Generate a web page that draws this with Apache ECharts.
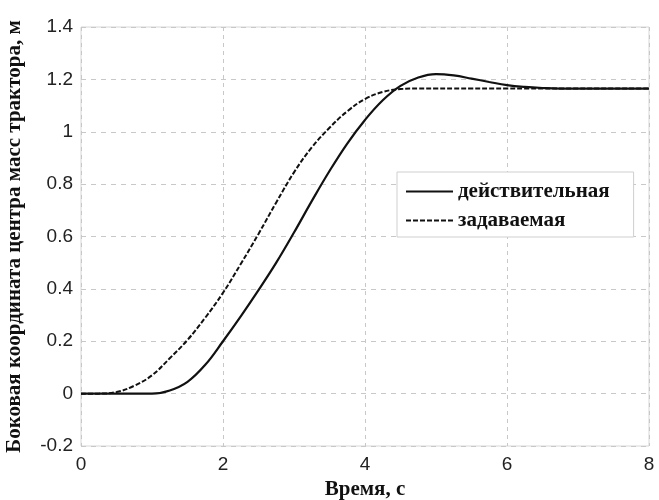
<!DOCTYPE html>
<html>
<head>
<meta charset="utf-8">
<script src="https://cdn.jsdelivr.net/npm/echarts@6/dist/echarts.min.js"></script>
<style>html,body{margin:0;padding:0;background:#fff}#c{width:659px;height:500px}</style>
</head>
<body>
<div id="c"></div>
<script>
const times = [0,0.25,0.5,0.75,1,1.25,1.5,1.75,2,2.25,2.5,2.75,3,3.25,3.5,3.75,4,4.25,4.5,4.75,5,5.25,5.5,5.75,6,6.25,6.5,6.75,7,7.25,7.5,7.75,8];
const actual = [0,0,0,0,0,0.012,0.045,0.11,0.2,0.295,0.395,0.5,0.615,0.735,0.85,0.955,1.045,1.12,1.175,1.207,1.22,1.215,1.203,1.19,1.178,1.171,1.167,1.165,1.165,1.165,1.165,1.165,1.165];
const target = [0,0,0.006,0.03,0.07,0.135,0.205,0.29,0.385,0.495,0.61,0.73,0.845,0.94,1.015,1.078,1.125,1.152,1.163,1.165,1.165,1.165,1.165,1.165,1.165,1.165,1.165,1.165,1.165,1.165,1.165,1.165,1.165];
const seriesNames = ['действительная','задаваемая'];
const xTitle = 'Время, с';
const yTitle = 'Боковая координата центра масс трактора, м';

const pair = (ys) => times.map((t,i)=>[t, ys[i]]);
const fmt = v => String(Math.round(v*10)/10);
const serif = {fontFamily:'Liberation Serif',fontWeight:'bold',fontSize:21,color:'#111'};
const chart = echarts.init(document.getElementById('c'));
chart.setOption({
  animation:false,
  backgroundColor:'#fff',
  grid:{left:81,right:10,top:27,bottom:54,show:true,borderColor:'#d6d6d6',borderWidth:1,
        containLabel:false,outerBoundsMode:'none'},
  legend:{
    orient:'vertical', left:397, top:172,
    padding:[9,24,6,8], itemGap:8, itemWidth:47, itemHeight:14,
    borderColor:'#cfcfcf', borderWidth:1, backgroundColor:'#fff',
    textStyle:serif,
    itemStyle:{opacity:0},
    data:seriesNames
  },
  xAxis:{
    type:'value', min:0, max:8, interval:2,
    name:xTitle, nameLocation:'middle', nameGap:31,
    nameTextStyle:serif,
    axisLine:{show:false}, axisTick:{show:false},
    axisLabel:{fontFamily:'Liberation Sans',fontSize:19,color:'#222',margin:9,formatter:fmt},
    splitLine:{show:true,lineStyle:{color:'#c8c8c8',type:[4,4],width:1}}
  },
  yAxis:{
    type:'value', min:-0.2, max:1.4, interval:0.2,
    name:yTitle, nameLocation:'middle', nameGap:56, nameRotate:90,
    nameTextStyle:serif,
    axisLine:{show:false}, axisTick:{show:false},
    axisLabel:{fontFamily:'Liberation Sans',fontSize:19,color:'#222',margin:8,formatter:fmt},
    splitLine:{show:true,lineStyle:{color:'#c8c8c8',type:[5,5],width:1}}
  },
  series:[
    {name:seriesNames[0],type:'line',data:pair(actual),smooth:0.4,symbol:'none',
     lineStyle:{color:'#111',width:2.2,type:'solid'},itemStyle:{color:'#111'},z:3},
    {name:seriesNames[1],type:'line',data:pair(target),smooth:0.4,symbol:'none',
     lineStyle:{color:'#111',width:2,type:[5,2]},itemStyle:{color:'#111'},z:2}
  ]
});
</script>
</body>
</html>
